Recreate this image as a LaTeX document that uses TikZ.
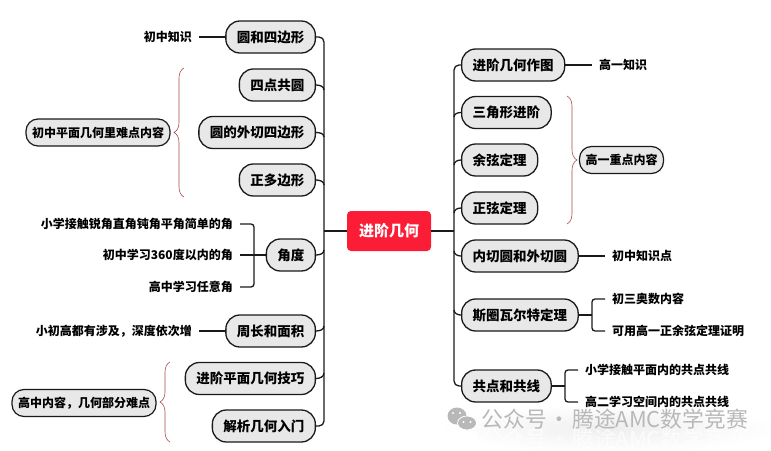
\documentclass[tikz,border=0pt]{standalone}
\usepackage{fontspec}
\setmainfont{Noto Sans CJK SC}
\usetikzlibrary{decorations.pathreplacing}
\definecolor{topicfill}{HTML}{E8E8E8}
\definecolor{rootred}{HTML}{FB1C35}
\definecolor{linedark}{HTML}{1A1A1A}
\definecolor{bracered}{HTML}{A84A4A}
\definecolor{markgray}{HTML}{B8B8B8}
\newcommand{\marktext}{公众号\makebox[25pt]{·}腾途AMC数学竞赛}
\tikzset{
  topic/.style={draw=linedark,line width=1.3pt,fill=topicfill,rounded corners=14pt,
    minimum height=32pt,inner xsep=11pt,inner ysep=0pt,font=\bfseries\fontsize{13.5pt}{14pt}\selectfont},
  note/.style={draw=linedark,line width=1.2pt,fill=topicfill,rounded corners=12pt,
    minimum height=27pt,inner xsep=6pt,inner ysep=0pt,font=\bfseries\fontsize{12pt}{13pt}\selectfont},
  leaf/.style={inner xsep=7pt,inner ysep=0pt,font=\bfseries\fontsize{12pt}{13pt}\selectfont},
  branch/.style={draw=linedark,line width=1.3pt},
  thin brace/.style={draw=bracered,line width=.6pt,decorate,decoration={brace,amplitude=10pt}},
  mark text/.style={inner sep=0pt,font=\fontsize{21.8pt}{22pt}\selectfont}
}
\begin{document}
\begin{tikzpicture}[x=1pt,y=-1pt]
  \useasboundingbox (0,0) rectangle (771,450);
  % watermark behind everything
  \shade[inner color=gray!13,outer color=white,draw=none] (610,428) ellipse (172 and 24);
  \node (markb) at (615,439) [mark text,text=white,text opacity=.7] {\marktext};
  \node (mark) at (615,419) [mark text,text=markgray] {\marktext};
  \fill[white] (458,431) ellipse (8.5 and 6.5) (469,437) ellipse (9 and 5.5);
  \fill[markgray] (457,416) ellipse (9.5 and 8.5);
  \draw[white,line width=.8pt,fill=markgray] (467,423) ellipse (9.5 and 7);
  \fill[white] (463.5,422) circle (1.2) (470.5,422) circle (1.2) (453,413) circle (1.2) (460,413) circle (1.2);
  % root
  \node (root) at (389,231) [fill=rootred,rounded corners=4pt,text=white,minimum width=84pt,minimum height=40pt,
    font=\bfseries\fontsize{15pt}{16pt}\selectfont] {进阶几何};
  % left topics
  \node (yuansi) at (316,37) [topic,anchor=east] {圆和四边形};
  \node (sidian) at (316,85) [topic,anchor=east] {四点共圆};
  \node (waiqie) at (316,132.5) [topic,anchor=east] {圆的外切四边形};
  \node (zhengduo) at (316,180) [topic,anchor=east] {正多边形};
  \node (jiaodu) at (316,255) [topic,anchor=east] {角度};
  \node (zhouchang) at (316,331) [topic,anchor=east] {周长和面积};
  \node (pingmian) at (316,378.5) [topic,anchor=east] {进阶平面几何技巧};
  \node (jiexi) at (316,426) [topic,anchor=east] {解析几何入门};
  % right topics
  \node (zuotu) at (461,65) [topic,anchor=west] {进阶几何作图};
  \node (sanjiao) at (461,112.5) [topic,anchor=west] {三角形进阶};
  \node (yuxian) at (461,160) [topic,anchor=west] {余弦定理};
  \node (zhengxian) at (461,208) [topic,anchor=west] {正弦定理};
  \node (neiqie) at (461,256) [topic,anchor=west] {内切圆和外切圆};
  \node (siwei) at (461,315) [topic,anchor=west] {斯圈瓦尔特定理};
  \node (gongdian) at (461,386) [topic,anchor=west] {共点和共线};
  % left leaves
  \node (l1) at (199,37) [leaf,anchor=east] {初中知识};
  \node (l2) at (240,224) [leaf,anchor=east] {小学接触锐角直角钝角平角简单的角};
  \node (l3) at (240,255) [leaf,anchor=east] {初中学习360度以内的角};
  \node (l4) at (240,287) [leaf,anchor=east] {高中学习任意角};
  \node (l5) at (199,331) [leaf,anchor=east] {小初高都有涉及，深度依次增};
  % right leaves
  \node (r1) at (592,65) [leaf,anchor=west] {高一知识};
  \node (r2) at (605,256) [leaf,anchor=west] {初中知识点};
  \node (r3) at (605,299) [leaf,anchor=west] {初三奥数内容};
  \node (r4) at (605,331) [leaf,anchor=west] {可用高一正余弦定理证明};
  \node (r5) at (578,370) [leaf,anchor=west] {小学接触平面内的共点共线};
  \node (r6) at (578,402) [leaf,anchor=west] {高二学习空间内的共点共线};
  % notes beside the braces
  \node (n1) at (98,132.5) [note] {初中平面几何里难点内容};
  \node (n2) at (84,403) [note] {高中内容，几何部分难点};
  \node (n3) at (621.5,160) [note] {高一重点内容};
  % the two spines
  \coordinate (sl) at (324,231);
  \coordinate (sr) at (454,231);
  \draw[branch,rounded corners=5pt] (yuansi.east) -| (sl) |- (jiexi.east);
  \draw[branch,rounded corners=5pt] (zuotu.west) -| (sr) |- (gongdian.west);
  \draw[branch] (root.west) -- (sl);
  \draw[branch] (root.east) -- (sr);
  % ticks onto the spines
  \foreach \n/\y/\a in {sidian/90/90,waiqie/137/90,zhengduo/185/90,jiaodu/250/-90,zhouchang/326/-90,pingmian/373/-90}
    {\coordinate (j\n) at (324,\y);
     \draw[branch] (\n.east) to[out=0,in=\a] (j\n);}
  \foreach \n/\y/\a in {sanjiao/117/90,yuxian/165/90,zhengxian/213/90,neiqie/251/-90,siwei/310/-90}
    {\coordinate (j\n) at (454,\y);
     \draw[branch] (\n.west) to[out=180,in=\a] (j\n);}
  % leaves
  \draw[branch] (l1.east) -- (yuansi.west);
  \draw[branch] (l5.east) -- (zhouchang.west);
  \draw[branch] (zuotu.east) -- (r1.west);
  \draw[branch] (neiqie.east) -- (r2.west);
  \coordinate (fa) at (254,255);
  \coordinate (fb) at (592,315);
  \coordinate (fc) at (565,386);
  \draw[branch] (l3.east) -- (jiaodu.west);
  \draw[branch,rounded corners=3pt] (l2.east) -| (fa) |- (l4.east);
  \draw[branch] (siwei.east) -- (fb);
  \draw[branch,rounded corners=3pt] (r3.west) -| (fb) |- (r4.west);
  \draw[branch] (gongdian.east) -- (fc);
  \draw[branch,rounded corners=3pt] (r5.west) -| (fc) |- (r6.west);
  % braces
  \draw[thin brace] (184,197) -- (184,68);
  \draw[thin brace] (170,442) -- (170,362);
  \draw[thin brace] (567,96) -- (567,224);
\end{tikzpicture}
\end{document}
